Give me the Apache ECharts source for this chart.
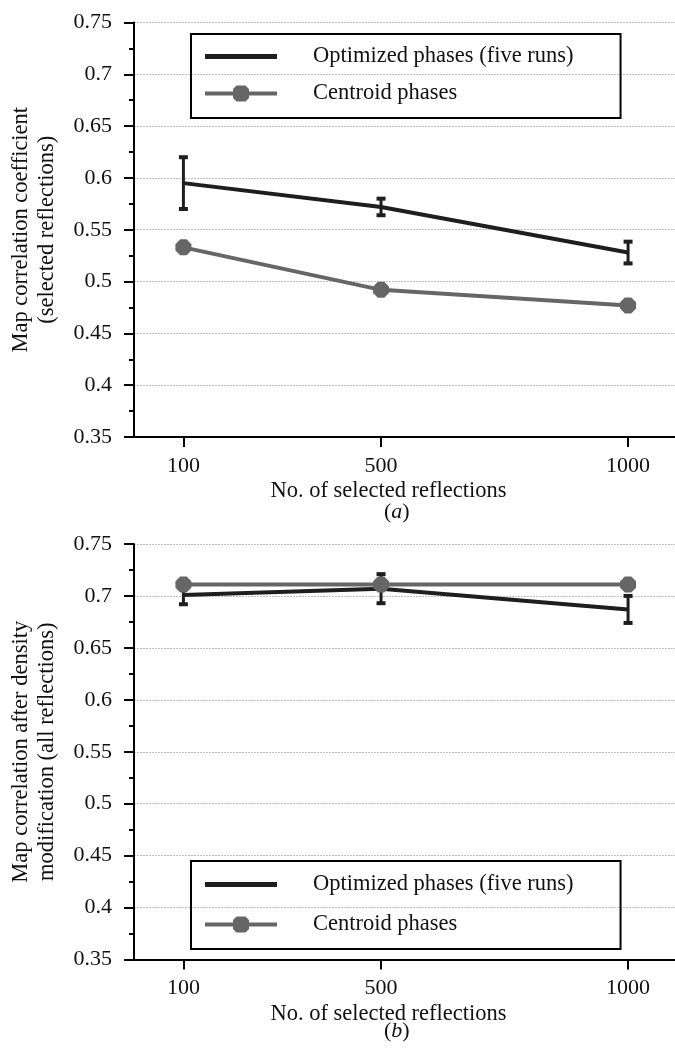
<!DOCTYPE html>
<html>
<head>
<meta charset="utf-8">
<script src="https://cdn.jsdelivr.net/npm/echarts@6/dist/echarts.min.js"></script>
<style>
html,body{margin:0;padding:0;background:#fff;overflow:hidden;}
#chart{width:675px;height:1049px;}
</style>
</head>
<body>
<div id="chart"></div>
<script>
// ---- data ----
const xValues = [100, 500, 1000];
const xTickValues = [100, 500, 1000];
const optimizedA = [0.595, 0.572, 0.528];
const optimizedAErr = [0.025, 0.008, 0.0105];
const centroidA = [0.533, 0.492, 0.477];
const optimizedB = [0.701, 0.707, 0.687];
const optimizedBErr = [0.009, 0.014, 0.013];
const centroidB = [0.711, 0.711, 0.711];
const seriesNames = ['Optimized phases (five runs)', 'Centroid phases'];
const xTitle = 'No. of selected reflections';
const yTitleA = 'Map correlation coefficient\n(selected reflections)';
const yTitleB = 'Map correlation after density\nmodification (all reflections)';

const FONT = "'Liberation Serif','Times New Roman',serif";
const DARK = '#1e1e1e';
const GRAY = '#666666';
const octagon = 'path://M3,0 L7,0 L10,3 L10,7 L7,10 L3,10 L0,7 L0,3 Z';
const legendLineIcon = 'path://M0,5.5 L72,5.5 L72,10.5 L0,10.5 Z';
const legendMarkIcon = 'path://M0,6 L72,6 L72,10 L0,10 Z M31.5,0 L40.5,0 L44,3.5 L44,12.5 L40.5,16 L31.5,16 L28,12.5 L28,3.5 Z';

const pairs = (ys) => xValues.map((x, i) => [x, ys[i]]);
const triples = (ys, es) => xValues.map((x, i) => [x, ys[i], es[i]]);

function errorRender(params, api) {
  const x = api.value(0), y = api.value(1), e = api.value(2);
  const top = api.coord([x, y + e]);
  const bot = api.coord([x, y - e]);
  const hw = 4.5;
  return {
    type: 'group',
    children: [
      { type: 'line', shape: { x1: top[0], y1: top[1], x2: bot[0], y2: bot[1] }, style: { stroke: DARK, lineWidth: 3 } },
      { type: 'line', shape: { x1: top[0] - hw, y1: top[1], x2: top[0] + hw, y2: top[1] }, style: { stroke: DARK, lineWidth: 4 } },
      { type: 'line', shape: { x1: bot[0] - hw, y1: bot[1], x2: bot[0] + hw, y2: bot[1] }, style: { stroke: DARK, lineWidth: 4 } }
    ]
  };
}

function xAxisCfg(idx) {
  return {
    type: 'value', gridIndex: idx, min: 0, max: 1095,
    axisLine: { show: true, onZero: false, lineStyle: { color: '#000', width: 2 } },
    axisTick: { show: true, customValues: xTickValues, length: 10, lineStyle: { color: '#000', width: 2 } },
    axisLabel: { customValues: xTickValues, formatter: (v) => String(v), fontFamily: FONT, fontSize: 22, color: '#111', margin: 18 },
    splitLine: { show: false },
    name: xTitle, nameLocation: 'middle', nameGap: 43,
    nameTextStyle: { fontFamily: FONT, fontSize: 22.5, color: '#111', padding: [0, 32, 0, 0] }
  };
}
function yAxisCfg(idx, title) {
  return {
    type: 'value', gridIndex: idx, min: 0.35, max: 0.75, interval: 0.05,
    axisLine: { show: true, lineStyle: { color: '#000', width: 2 } },
    axisTick: { show: true, length: 10, lineStyle: { color: '#000', width: 2 } },
    minorTick: { show: true, splitNumber: 2, length: 5, lineStyle: { color: '#000', width: 2 } },
    axisLabel: { fontFamily: FONT, fontSize: 22, color: '#111', margin: 22 },
    splitLine: { show: true, lineStyle: { color: '#c0c0c0', width: 1, type: [2, 1] } },
    name: title, nameLocation: 'middle', nameRotate: 90, nameGap: 74,
    nameTextStyle: { fontFamily: FONT, fontSize: 22.5, color: '#111', lineHeight: 26 }
  };
}
function legendCfg(top, gap, pad) {
  return {
    orient: 'vertical', left: 191, top: top,
    padding: pad, itemGap: gap, itemWidth: 72, itemHeight: 16,
    borderColor: '#000', borderWidth: 2,
    itemStyle: { borderWidth: 0 },
    textStyle: { fontFamily: FONT, fontSize: 22.5, color: '#111', padding: [0, 0, 0, 31] },
    data: [
      { name: seriesNames[0], icon: legendLineIcon, itemStyle: { color: DARK, borderWidth: 0 } },
      { name: seriesNames[1], icon: legendMarkIcon, itemStyle: { color: GRAY, borderWidth: 0 } }
    ]
  };
}
const subLabel = (ch) => ({
  text: '{p|(}{i|' + ch + '}{p|)}',
  textStyle: { rich: {
    p: { fontFamily: FONT, fontSize: 22, fontWeight: 'normal', color: '#111' },
    i: { fontFamily: FONT, fontSize: 22, fontWeight: 'normal', fontStyle: 'italic', color: '#111' }
  } }
});

const option = {
  backgroundColor: '#fff',
  animation: false,
  title: [
    Object.assign(subLabel('a'), { left: 379, top: 496 }),
    Object.assign(subLabel('b'), { left: 379, top: 1015 })
  ],
  legend: [legendCfg(34, 14, [11, 47, 13, 14]), legendCfg(861, 17, [12, 47, 13, 14])],
  grid: [
    { left: 133, right: 0, top: 22.5, height: 414.5 },
    { left: 133, right: 0, top: 544, height: 415.5 }
  ],
  xAxis: [xAxisCfg(0), xAxisCfg(1)],
  yAxis: [yAxisCfg(0, yTitleA), yAxisCfg(1, yTitleB)],
  series: [
    { name: seriesNames[0], type: 'line', xAxisIndex: 0, yAxisIndex: 0, data: pairs(optimizedA), symbol: 'none', lineStyle: { color: DARK, width: 4 }, itemStyle: { color: DARK }, z: 2 },
    { name: 'errA', type: 'custom', xAxisIndex: 0, yAxisIndex: 0, data: triples(optimizedA, optimizedAErr), renderItem: errorRender, encode: { x: 0, y: 1 }, z: 3 },
    { name: seriesNames[1], type: 'line', xAxisIndex: 0, yAxisIndex: 0, data: pairs(centroidA), symbol: octagon, symbolSize: 16, lineStyle: { color: GRAY, width: 4 }, itemStyle: { color: GRAY }, z: 4 },
    { name: seriesNames[0], type: 'line', xAxisIndex: 1, yAxisIndex: 1, data: pairs(optimizedB), symbol: 'none', lineStyle: { color: DARK, width: 4 }, itemStyle: { color: DARK }, z: 2 },
    { name: 'errB', type: 'custom', xAxisIndex: 1, yAxisIndex: 1, data: triples(optimizedB, optimizedBErr), renderItem: errorRender, encode: { x: 0, y: 1 }, z: 3 },
    { name: seriesNames[1], type: 'line', xAxisIndex: 1, yAxisIndex: 1, data: pairs(centroidB), symbol: octagon, symbolSize: 16, lineStyle: { color: GRAY, width: 4 }, itemStyle: { color: GRAY }, z: 4 }
  ]
};
const chart = echarts.init(document.getElementById('chart'), null, { renderer: 'canvas' });
chart.setOption(option);
</script>
</body>
</html>
